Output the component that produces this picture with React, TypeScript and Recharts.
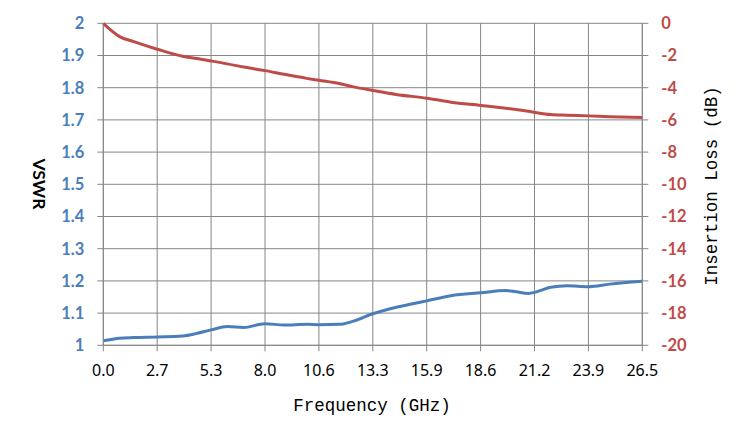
import React from "react";
import {
  ComposedChart, Line, XAxis, YAxis, CartesianGrid
} from "recharts";

// frequency points (GHz)
const freqGHz = [
  0, 0.3, 0.8, 1.5, 2.65, 3.9, 4.6, 5.3, 6.1, 6.9, 7.95, 8.9, 10.0, 10.6, 11.6,
  12.3, 13.25, 14.4, 15.9, 17.1, 18.55, 19.8, 20.3, 20.9, 21.3, 22.0, 22.8,
  23.85, 24.9, 26.5,
];

const vswr = [
  1.014, 1.017, 1.022, 1.024, 1.026, 1.029, 1.037, 1.048, 1.058, 1.055, 1.067,
  1.063, 1.065, 1.064, 1.065, 1.075, 1.098, 1.118, 1.138, 1.154, 1.163, 1.17,
  1.166, 1.161, 1.166, 1.18, 1.185, 1.182, 1.19, 1.199,
];

const insertionLoss = [
  0, -0.35, -0.83, -1.14, -1.61, -2.05, -2.19, -2.34, -2.52, -2.72, -2.94,
  -3.17, -3.42, -3.54, -3.74, -3.95, -4.17, -4.42, -4.65, -4.9, -5.1, -5.28,
  -5.36, -5.46, -5.55, -5.67, -5.71, -5.75, -5.8, -5.85,
];

const xTickLabels = ["0.0", "2.7", "5.3", "8.0", "10.6", "13.3", "15.9", "18.6", "21.2", "23.9", "26.5"];
const xTickValues = [0, 2.65, 5.3, 7.95, 10.6, 13.25, 15.9, 18.55, 21.2, 23.85, 26.5];
const vswrTicks = [1, 1.1, 1.2, 1.3, 1.4, 1.5, 1.6, 1.7, 1.8, 1.9, 2];
const lossTicks = [-20, -18, -16, -14, -12, -10, -8, -6, -4, -2, 0];

const data = freqGHz.map((f, i) => ({ f, vswr: vswr[i], loss: insertionLoss[i] }));

const BLUE = "#4A7EBB";
const RED = "#BE4B48";
const GRID = "#868686";
const sideFont = { fontFamily: "Lato, sans-serif", fontSize: 16.5, fontWeight: 700 };
const monoFont = "'Liberation Mono', monospace";

export default function App() {
  return (
    <div style={{ width: 741, height: 436 }}>
      <ComposedChart
        width={741}
        height={436}
        data={data}
        margin={{ top: 15.3, right: 0, bottom: 0, left: 0.3 }}
      >
        <CartesianGrid yAxisId="left" stroke={GRID} strokeWidth={1} horizontalValues={vswrTicks} verticalValues={xTickValues} />
        <XAxis
          dataKey="f"
          type="number"
          domain={[0, 26.5]}
          ticks={xTickValues}
          tickFormatter={(_v, i) => xTickLabels[i]}
          height={98.7}
          stroke={GRID}
          tickSize={6}
          tickMargin={13}
          tick={{ fill: "#000", fontFamily: "'Noto Sans', sans-serif", fontSize: 16 }}
          label={() => (
            <text x={364} y={398} textAnchor="middle" dominantBaseline="central"
              fontFamily={monoFont} fontSize={17.5} fill="#000">
              Frequency (GHz)
            </text>
          )}
        />
        <YAxis
          yAxisId="left"
          domain={[1, 2]}
          ticks={vswrTicks}
          width={95}
          stroke={GRID}
          tickSize={6}
          tickMargin={13}
          tick={{ fill: BLUE, ...sideFont }}
          label={() => (
            <text x={31} y={176} textAnchor="middle" dominantBaseline="central"
              transform="rotate(90 31 176)" fontFamily="Lato, sans-serif"
              fontSize={17.5} fontWeight={700} fill="#000">
              VSWR
            </text>
          )}
        />
        <YAxis
          yAxisId="right"
          orientation="right"
          domain={[-20, 0]}
          ticks={lossTicks}
          width={106.7}
          stroke={GRID}
          tickSize={6}
          tickMargin={13}
          tick={{ fill: RED, ...sideFont }}
          label={() => (
            <text x={704} y={178} textAnchor="middle" dominantBaseline="central"
              transform="rotate(-90 704 178)" fontFamily={monoFont}
              fontSize={17.5} fill="#000">
              Insertion Loss (dB)
            </text>
          )}
        />
        <Line yAxisId="left" type="monotone" dataKey="vswr" stroke={BLUE} strokeWidth={3}
          dot={false} isAnimationActive={false} />
        <Line yAxisId="right" type="monotone" dataKey="loss" stroke={RED} strokeWidth={3}
          dot={false} isAnimationActive={false} />
      </ComposedChart>
    </div>
  );
}
